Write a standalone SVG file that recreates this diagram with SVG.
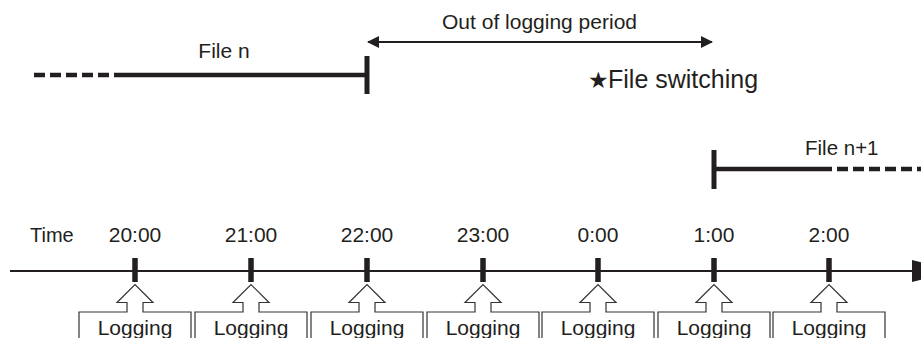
<svg xmlns="http://www.w3.org/2000/svg" width="921" height="338" viewBox="0 0 921 338">
<style>
text{font-family:"Liberation Sans",Arial,sans-serif;fill:#231f20}
.lbl{font-size:21px;text-anchor:middle}
.thick{stroke:#231f20;stroke-width:4.5;fill:none}
.dash{stroke:#231f20;stroke-width:4.5;fill:none;stroke-dasharray:11 5}
.bar{stroke:#231f20;stroke-width:5;fill:none}
.thin{stroke:#231f20;stroke-width:2;fill:none}
.box{stroke:#333;stroke-width:1.2;fill:#fff}
.tick{stroke:#231f20;stroke-width:5.5}
</style>
<defs>
<marker id="ah" viewBox="0 0 12 12" refX="11" refY="6" markerWidth="12" markerHeight="12" markerUnits="userSpaceOnUse" orient="auto-start-reverse">
<path d="M0,0 L12,6 L0,12 Z" fill="#231f20"/>
</marker>
<g id="logpart">
<path class="box" d="M-56,340 V312 H-8 V302.5 H-18 L0,284.5 L18,302.5 H8 V312 H56 V340"/>
<line class="tick" x1="0" y1="258" x2="0" y2="282"/>
<text class="lbl" x="0" y="335">Logging</text>
</g>
</defs>
<g id="file-n">
<line class="dash" x1="34" y1="75" x2="115" y2="75"/>
<line class="thick" x1="115" y1="75" x2="367" y2="75"/>
<line class="bar" x1="367" y1="56" x2="367" y2="94"/>
<text class="lbl" x="224" y="58">File n</text>
</g>
<g id="file-n1">
<line class="bar" x1="714" y1="150" x2="714" y2="189"/>
<line class="thick" x1="714" y1="169" x2="832" y2="169"/>
<line class="dash" x1="837" y1="169" x2="925" y2="169"/>
<text x="805" y="155" style="font-size:20.5px">File n+1</text>
</g>
<g id="connectors">
<line class="thin" x1="368" y1="42" x2="712" y2="42" marker-start="url(#ah)" marker-end="url(#ah)"/>
<line class="thin" x1="10" y1="271" x2="913" y2="271"/>
<polygon points="912,260 957,271 912,282" fill="#231f20"/>
</g>
<g id="out-of-logging">
<text class="lbl" x="539.5" y="29">Out of logging period</text>
</g>
<g id="file-switching">
<text x="588" y="88" style="font-size:25px"><tspan style="font-family:'DejaVu Sans',sans-serif;font-size:23px">★</tspan><tspan x="608">File switching</tspan></text>
</g>
<g id="time-axis">
<text x="30" y="242" style="font-size:20px">Time</text>
<text class="lbl" x="135" y="242">20:00</text>
<text class="lbl" x="251" y="242">21:00</text>
<text class="lbl" x="367" y="242">22:00</text>
<text class="lbl" x="483" y="242">23:00</text>
<text class="lbl" x="598" y="242">0:00</text>
<text class="lbl" x="714" y="242">1:00</text>
<text class="lbl" x="829" y="242">2:00</text>
</g>
<g id="log-2000"><use href="#logpart" x="135"/></g>
<g id="log-2100"><use href="#logpart" x="251"/></g>
<g id="log-2200"><use href="#logpart" x="367"/></g>
<g id="log-2300"><use href="#logpart" x="483"/></g>
<g id="log-0000"><use href="#logpart" x="598"/></g>
<g id="log-0100"><use href="#logpart" x="714"/></g>
<g id="log-0200"><use href="#logpart" x="829"/></g>
</svg>
